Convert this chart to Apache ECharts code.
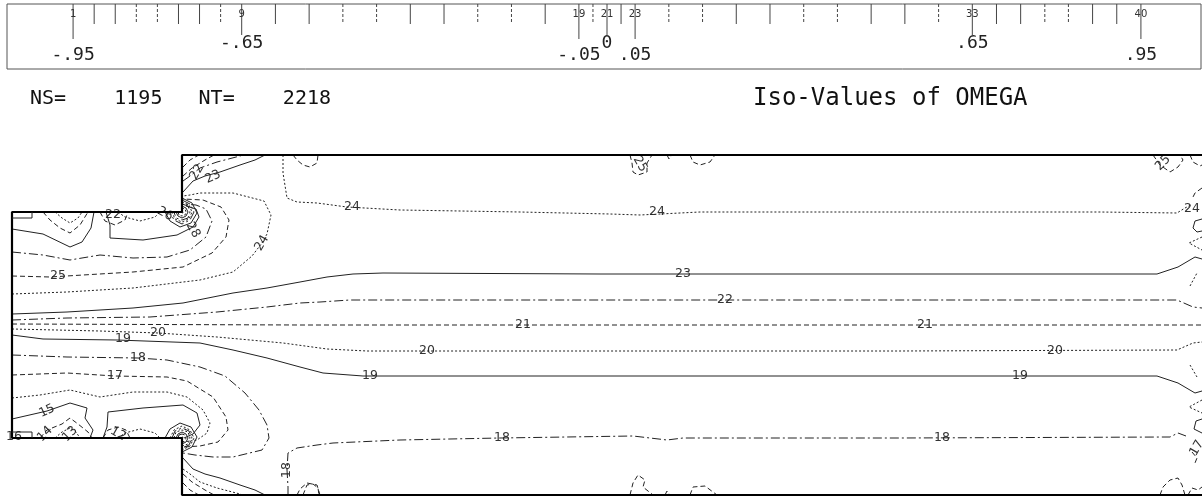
<!DOCTYPE html>
<html><head><meta charset="utf-8">
<script src="https://cdn.jsdelivr.net/npm/echarts@6/dist/echarts.min.js"></script>
<style>html,body{margin:0;padding:0;background:#fff}#c{width:1202px;height:497px}</style>
</head><body><div id="c"></div>
<script>
// ---------- legend bar (iso-value scale) ----------
const tickNumbers = [1,2,3,4,5,6,7,8,9,10,11,12,13,14,15,16,17,18,19,20,21,22,23,24,25,26,27,28,29,30,31,32,33,34,35,36,37,38,39,40];
const tickValues = [-0.95,-0.9125,-0.875,-0.8375,-0.8,-0.7625,-0.725,-0.6875,-0.65,-0.59,-0.53,-0.47,-0.41,-0.35,-0.29,-0.23,-0.17,-0.11,-0.05,-0.025,0,0.025,0.05,0.11,0.17,0.23,0.29,0.35,0.41,0.47,0.53,0.59,0.65,0.693,0.736,0.779,0.821,0.864,0.907,0.95];
const labeledTicks = [1,9,19,21,23,33,40];
const labeledValueText = ['-.95','-.65','-.05','0','.05','.65','.95'];
const labeledRaised = [false,true,false,true,false,true,false];

// ---------- header texts ----------
const headerLeft = 'NS=    1195   NT=    2218';
const headerRight = 'Iso-Values of OMEGA';

// ---------- domain outline ----------
const domainOutline = [[1202,155],[182,155],[182,212],[12,212],[12,438],[182,438],[182,495],[1202,495]];
const inletMarkTop = [[12,218],[32,218],[32,212]];
const inletMarkBottom = [[12,432],[32,432],[32,438]];

// ---------- iso-lines (value, points) ----------
const c27a = [[12,229],[43,234],[70,247],[82,242],[91,228],[94,212]];
const c27b = [[106,212],[110,225],[110,238],[143,240],[177,235],[193,227],[199,217],[196,209],[186,206]];
const c26 = [[12,252],[43,255],[70,260],[100,255],[133,258],[167,257],[190,250],[206,237],[212,221],[206,209],[196,205],[183,204]];
const c25 = [[12,276],[50,277],[83,275],[133,272],[183,267],[212,253],[226,237],[229,220],[221,207],[203,200],[183,199]];
const c24a = [[12,294],[67,292],[133,288],[200,280],[233,272],[252,256],[262,243],[267,234],[271,215],[264,201],[233,193],[200,193],[190,195],[183,196]];
const c24main = [[283,155],[283,173],[287,198],[297,202],[317,203],[347,207],[400,210],[520,212],[610,214],[640,215],[700,212],[900,212],[1100,212],[1177,213],[1185,208],[1191,205]];
const c23main = [[12,314],[67,312],[133,308],[183,303],[233,293],[267,288],[300,282],[327,277],[353,274],[383,273],[600,274],[900,274],[1157,274],[1178,267],[1195,257],[1202,259]];
const c23step = [[183,192],[193,181],[205,176],[220,172],[240,165],[255,160],[265,155]];
const c22main = [[12,320],[67,318],[150,317],[217,312],[267,307],[300,303],[320,302],[350,300],[600,300],[900,300],[1177,300],[1193,307],[1202,308]];
const c22step = [[183,181],[190,176],[200,168],[217,162],[240,156],[243,155]];
const c21main = [[12,324],[300,325],[1202,325]];
const c21step = [[183,167],[190,160],[197,156],[199,155]];
const c21stepLow = [[183,483],[190,490],[197,494],[199,495]];
const c20main = [[12,329],[100,331],[158,333],[217,337],[283,343],[327,349],[367,351],[600,351],[900,351],[1177,350],[1193,343],[1202,342]];
const c20step = [[183,469],[190,474],[200,482],[217,488],[240,494],[243,495]];
const c19main = [[12,335],[43,339],[117,340],[200,343],[233,350],[267,358],[300,367],[323,373],[363,376],[600,376],[900,376],[1157,376],[1178,383],[1195,393],[1202,391]];
const c19step = [[183,458],[193,469],[205,474],[220,478],[240,485],[255,490],[265,495]];
const c18a = [[12,355],[67,357],[138,358],[167,360],[200,367],[225,376],[245,393],[259,410],[267,425],[269,438],[262,450],[233,457],[213,457],[195,455],[183,453]];
const c18main = [[288,495],[288,487],[287,470],[288,453],[297,448],[317,445],[333,443],[400,440],[500,438],[633,436],[667,440],[683,438],[900,438],[1170,437],[1178,433],[1186,436]];
const c17 = [[12,375],[67,373],[115,376],[167,377],[187,381],[213,397],[226,417],[228,430],[218,442],[200,446],[183,447]];
const c16 = [[12,398],[40,395],[70,390],[100,397],[133,392],[167,392],[187,397],[203,410],[210,423],[207,433],[197,440],[183,442]];
const c15a = [[12,419],[47,411],[70,403],[87,408],[85,418],[93,430],[90,438]];
const c15b = [[103,438],[107,427],[108,412],[143,408],[183,405],[197,413],[200,425],[193,434],[184,438]];

// small iso-lines near walls and corners
const wallBits = [
  {v:25, p:[[43,212],[50,220],[60,228],[70,233],[80,225],[88,212]]},
  {v:24, p:[[55,212],[62,218],[70,223],[78,218],[82,212]]},
  {v:25, p:[[100,212],[105,221],[115,225],[125,220],[128,212]]},
  {v:24, p:[[118,212],[125,217],[140,221],[155,217],[160,212]]},
  {v:21, p:[[183,176],[192,168],[205,160],[214,155]]},
  {v:17, p:[[40,438],[47,430],[62,424],[70,418],[78,424],[88,432],[92,438]]},
  {v:16, p:[[55,438],[62,432],[70,428],[76,432],[80,438]]},
  {v:17, p:[[103,438],[108,430],[118,427],[126,430],[130,438]]},
  {v:16, p:[[118,438],[125,433],[140,429],[155,433],[160,438]]},
  {v:21, p:[[183,474],[192,482],[205,490],[214,495]]},
  {v:25, p:[[293,155],[297,160],[303,165],[310,167],[317,163],[318,155]]},
  {v:17, p:[[297,495],[300,489],[307,483],[317,485],[320,495]]},
  {v:25, p:[[630,155],[632,163],[633,172],[638,175],[647,172],[647,163],[652,155]]},
  {v:25, p:[[667,155],[669,159],[672,155]]},
  {v:25, p:[[690,155],[693,162],[700,165],[710,162],[715,155]]},
  {v:17, p:[[303,495],[307,485],[313,484],[318,488],[319,495]]},
  {v:17, p:[[630,495],[633,483],[638,475],[645,480],[643,487],[653,495]]},
  {v:17, p:[[665,495],[667,491],[670,495]]},
  {v:17, p:[[690,495],[693,487],[705,486],[713,492],[717,495]]},
  {v:25, p:[[1153,155],[1160,165],[1170,172],[1178,167],[1183,160],[1180,155]]},
  {v:25, p:[[1190,155],[1193,162],[1200,166],[1202,165]]},
  {v:25, p:[[1202,188],[1195,193],[1192,199]]},
  {v:23, p:[[1202,219],[1195,221],[1193,228],[1197,232],[1202,231]]},
  {v:24, p:[[1202,237],[1189,243],[1202,250]]},
  {v:24, p:[[1190,286],[1197,273]]},
  {v:20, p:[[1190,365],[1197,377]]},
  {v:20, p:[[1202,400],[1189,407],[1202,413]]},
  {v:19, p:[[1202,419],[1196,421],[1194,429],[1202,433]]},
  {v:17, p:[[1192,452],[1197,458],[1195,463]]},
  {v:17, p:[[1160,495],[1163,487],[1170,480],[1178,478],[1182,485],[1185,495]]},
  {v:17, p:[[1188,495],[1192,488],[1198,490],[1202,487]]}
];
const cornerArcsTop = [
  {v:27, p:[[182,210],[183,211],[184,212],[183,213],[182,214],[181,213],[180,212]]},
  {v:28, p:[[182,208],[185,209],[186,212],[185,215],[182,216],[179,215],[178,212]]},
  {v:27, p:[[182,206],[186,208],[188,212],[186,216],[182,218],[178,216],[176,212]]},
  {v:26, p:[[182,204],[188,206],[190,212],[188,218],[182,220],[176,218],[174,212]]},
  {v:28, p:[[182,202],[189,205],[192,212],[189,219],[182,222],[175,219],[172,212]]},
  {v:26, p:[[182,200],[190,204],[194,212],[190,220],[182,224],[174,220],[170,212]]},
  {v:27, p:[[182,198],[192,203],[197,213],[191,223],[180,227],[170,221],[165,212]]}
];
const cornerArcsBottom = [
  {v:15, p:[[180,438],[181,437],[182,436],[183,437],[184,438],[183,439],[182,440]]},
  {v:14, p:[[178,438],[179,435],[182,434],[185,435],[186,438],[185,441],[182,442]]},
  {v:15, p:[[176,438],[178,434],[182,432],[186,434],[188,438],[186,442],[182,444]]},
  {v:16, p:[[174,438],[176,432],[182,430],[188,432],[190,438],[188,444],[182,446]]},
  {v:14, p:[[172,438],[175,431],[182,428],[189,431],[192,438],[189,445],[182,448]]},
  {v:16, p:[[170,438],[174,430],[182,426],[190,430],[194,438],[190,446],[182,450]]},
  {v:15, p:[[165,438],[170,429],[180,423],[191,427],[197,437],[192,447],[182,452]]}
];

// contour value labels: x, y, text, rotation (deg)
const contourLabels = [
  [58,276,'25',0],[262,243,'24',60],[352,207,'24',0],[657,212,'24',0],[1192,209,'24',0],
  [683,274,'23',0],[213,177,'23',25],[725,300,'22',0],[197,172,'22',60],
  [523,325,'21',0],[925,325,'21',0],
  [158,333,'20',0],[427,351,'20',0],[1055,351,'20',0],
  [123,339,'19',0],[370,376,'19',0],[1020,376,'19',0],
  [138,358,'18',0],[502,438,'18',0],[942,438,'18',0],[287,470,'18',90],
  [115,376,'17',0],[47,411,'15',25],[14,437,'16',0],[45,434,'14',45],[70,434,'13',45],[118,434,'12',-30],
  [113,215,'22',0],[640,164,'25',-60],[1163,163,'25',45],[165,214,'26',-30],[193,230,'28',-60],[1197,448,'17',60]
];

// ---------- styles ----------
function dashFor(v){
  const m = ((v % 4) + 4) % 4;
  if (m === 3) return 'solid';
  if (m === 0) return [2, 2];
  if (m === 1) return [5, 3];
  return [9, 3, 2, 3];
}
function lineSeries(v, pts, width){
  return { type:'line', xAxisIndex:0, yAxisIndex:0, data:pts, showSymbol:false, symbol:'none',
    silent:true, animation:false, clip:false,
    lineStyle:{ color:'#222', width: width || 1, type: dashFor(v) } };
}

const mainContours = [
  [27,c27a],[27,c27b],[26,c26],[25,c25],[24,c24a],[24,c24main],
  [23,c23main],[23,c23step],[22,c22main],[22,c22step],[21,c21main],[21,c21step],[21,c21stepLow],
  [20,c20main],[20,c20step],[19,c19main],[19,c19step],[18,c18a],[18,c18main],
  [17,c17],[16,c16],[15,c15a],[15,c15b]
];

const series = [];
mainContours.forEach(([v, p]) => series.push(lineSeries(v, p)));
wallBits.concat(cornerArcsTop, cornerArcsBottom).forEach(o => series.push(lineSeries(o.v, o.p)));
// domain boundary
series.push({ type:'line', xAxisIndex:0, yAxisIndex:0, data:domainOutline, showSymbol:false, symbol:'none', silent:true, animation:false,
  lineStyle:{ color:'#000', width:2.2, type:'solid' } });
[inletMarkTop, inletMarkBottom].forEach(p => series.push({ type:'line', xAxisIndex:0, yAxisIndex:0, data:p, showSymbol:false, symbol:'none', silent:true, animation:false,
  lineStyle:{ color:'#222', width:1 } }));

// contour labels
series.push({ type:'custom', xAxisIndex:0, yAxisIndex:0, silent:true, animation:false, clip:false,
  data: contourLabels.map(d => [d[0], d[1]]),
  renderItem: function(params, api){
    const d = contourLabels[params.dataIndex];
    const pt = api.coord([d[0], d[1]]);
    return { type:'text', x:pt[0], y:pt[1], rotation: d[3] * Math.PI / 180,
      style:{ text:d[2], fill:'#333', font:'12.5px "DejaVu Sans", sans-serif', align:'center', verticalAlign:'middle',
        backgroundColor:'#fff', padding:[0,1] } };
  } });

// legend ticks
const tickData = tickNumbers.map((n, i) => [tickValues[i], n]);
series.push({ type:'custom', xAxisIndex:1, yAxisIndex:1, silent:true, animation:false, clip:false,
  data: tickData,
  renderItem: function(params, api){
    const v = api.value(0), n = api.value(1);
    const li = labeledTicks.indexOf(n);
    const m = ((n % 4) + 4) % 4;
    const dash = (m === 2 || m === 3) ? null : [3, 2];
    const top = api.coord([v, 0]);
    const children = [];
    if (li < 0) {
      const bot = api.coord([v, 20]);
      children.push({ type:'line', shape:{x1:top[0], y1:top[1], x2:bot[0], y2:bot[1]}, style:{stroke:'#444', lineWidth:1, lineDash:dash} });
    } else {
      const bot = api.coord([v, labeledRaised[li] ? 31 : 35]);
      children.push({ type:'line', shape:{x1:top[0], y1:top[1], x2:bot[0], y2:bot[1]}, style:{stroke:'#444', lineWidth:1} });
      const np = api.coord([v, 10]);
      children.push({ type:'text', x:np[0], y:np[1], style:{ text:String(n), fill:'#333', font:'10px "DejaVu Sans", sans-serif', align:'center', verticalAlign:'middle' } });
      const vp = api.coord([v, labeledRaised[li] ? 39 : 51]);
      children.push({ type:'text', x:vp[0], y:vp[1], style:{ text:labeledValueText[li], fill:'#222', font:'18px "DejaVu Sans Mono", monospace', align:'center', verticalAlign:'middle' } });
    }
    return { type:'group', children };
  } });

const chart = echarts.init(document.getElementById('c'), null, { renderer:'canvas' });
chart.setOption({
  backgroundColor:'#fff',
  animation:false,
  title:[
    { text: headerLeft, left: 25, top: 84, textStyle:{ fontFamily:'"DejaVu Sans Mono", monospace', fontSize:20, fontWeight:'normal', color:'#111' } },
    { text: headerRight, left: 748, top: 82, textStyle:{ fontFamily:'"DejaVu Sans Mono", monospace', fontSize:24, fontWeight:'normal', color:'#111' } }
  ],
  grid:[
    { left:0, top:0, width:1202, height:497, show:false },
    { left:7, top:4, width:1194, height:65, show:true, borderColor:'#555', borderWidth:1, backgroundColor:'transparent' }
  ],
  xAxis:[
    { type:'value', gridIndex:0, min:0, max:1202, show:false },
    { type:'value', gridIndex:1, min:-1.0676, max:1.0569, show:false }
  ],
  yAxis:[
    { type:'value', gridIndex:0, min:0, max:497, inverse:true, show:false },
    { type:'value', gridIndex:1, min:0, max:65, inverse:true, show:false }
  ],
  series
});
</script></body></html>
